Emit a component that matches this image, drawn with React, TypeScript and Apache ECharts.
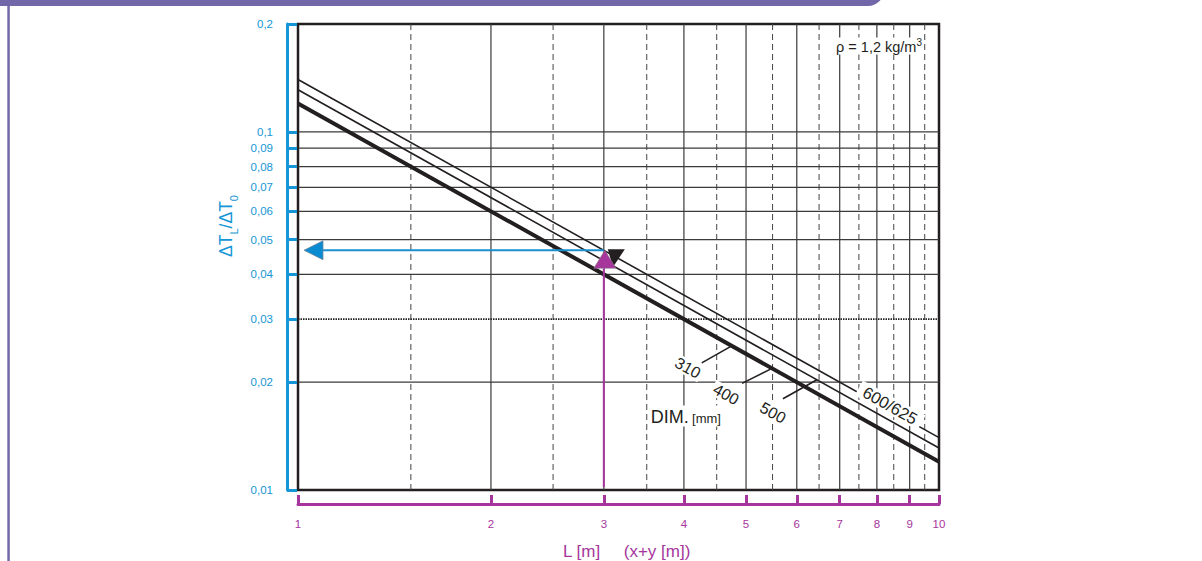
import React, { useEffect, useRef } from 'react';
import * as echarts from 'echarts';

// ---------- data ----------
const L_VALUES = [1, 10];
const DIM_310_400 = [0.12, 0.012];
const DIM_500 = [0.131, 0.0131];
const DIM_600_625 = [0.14, 0.014];

const Y_TICKS = [0.01, 0.02, 0.03, 0.04, 0.05, 0.06, 0.07, 0.08, 0.09, 0.1, 0.2];
const X_TICKS = [1, 2, 3, 4, 5, 6, 7, 8, 9, 10];
const H_GRID = [0.02, 0.04, 0.05, 0.06, 0.07, 0.08, 0.09, 0.1];
const H_GRID_DOTTED = [0.03];
const V_GRID = [2, 3, 4, 5, 6, 7, 8, 9];
const V_GRID_DASHED = [1.5, 2.5, 3.5, 4.5, 5.5, 6.5, 7.5, 8.5, 9.5];

const EXAMPLE_L = 3;
const EXAMPLE_RESULT = 0.0467;

// ---------- styles ----------
const FONT = '"Liberation Sans", Arial, Helvetica, sans-serif';
const BLUE = '#1596d6';
const PURPLE = '#a6369c';
const HEADER = '#7268a9';
const INK = '#231f20';
const GRIDC = '#3a3a3a';

const X_MIN = X_TICKS[0];
const X_MAX = X_TICKS[X_TICKS.length - 1];
const Y_MIN = Y_TICKS[0];
const Y_MAX = Y_TICKS[Y_TICKS.length - 1];

const toPairs = (xs: number[], ys: number[]) => xs.map((x, i) => [x, ys[i]]);
const valueOn = (ys: number[], L: number) => {
  const [x0, x1] = L_VALUES;
  const t = Math.log(L / x0) / Math.log(x1 / x0);
  return ys[0] * Math.pow(ys[1] / ys[0], t);
};
const fmt = (v: number) => String(Number(Number(v).toPrecision(6))).replace('.', ',');

const LEADERS = [
  { text: '310', line: DIM_310_400, L: 4.75, start: [-30, 17], label: [-44, 22] },
  { text: '400', line: DIM_310_400, L: 5.49, start: [-30, 15], label: [-46, 26] },
  { text: '500', line: DIM_500, L: 6.45, start: [-34, 19], label: [-44, 33] },
];

function renderGrid(_params: any, api: any) {
  const [, yb] = api.coord([X_MIN, Y_MIN]);
  const [, yt] = api.coord([X_MAX, Y_MAX]);
  const [xl] = api.coord([X_MIN, Y_MIN]);
  const [xr] = api.coord([X_MAX, Y_MIN]);
  const children: any[] = [];
  V_GRID_DASHED.forEach((L) => {
    const x = api.coord([L, Y_MIN])[0];
    children.push({ type: 'line', shape: { x1: x, y1: yt, x2: x, y2: yb }, style: { stroke: '#444', lineWidth: 1, lineDash: [6, 4] } });
  });
  V_GRID.forEach((L) => {
    const x = api.coord([L, Y_MIN])[0];
    children.push({ type: 'line', shape: { x1: x, y1: yt, x2: x, y2: yb }, style: { stroke: GRIDC, lineWidth: 1.2 } });
  });
  H_GRID.forEach((v) => {
    const y = api.coord([X_MIN, v])[1];
    children.push({ type: 'line', shape: { x1: xl, y1: y, x2: xr, y2: y }, style: { stroke: GRIDC, lineWidth: 1.2 } });
  });
  H_GRID_DOTTED.forEach((v) => {
    const y = api.coord([X_MIN, v])[1];
    children.push({ type: 'line', shape: { x1: xl, y1: y, x2: xr, y2: y }, style: { stroke: '#222', lineWidth: 1.8, lineDash: [1.5, 1] } });
  });
  return { type: 'group', children };
}

function renderAnnotations(_params: any, api: any) {
  const children: any[] = [];
  const p1 = api.coord([L_VALUES[0], DIM_600_625[0]]);
  const p2 = api.coord([L_VALUES[1], DIM_600_625[1]]);
  const angle = Math.atan2(p2[1] - p1[1], p2[0] - p1[0]);

  LEADERS.forEach((d) => {
    const a = api.coord([d.L, valueOn(d.line, d.L)]);
    children.push({
      type: 'text', x: a[0] + d.label[0], y: a[1] + d.label[1], rotation: -angle,
      style: { text: d.text, fill: INK, fontSize: 16, fontFamily: FONT, align: 'center', verticalAlign: 'middle', backgroundColor: '#fff', padding: [0, 2] },
    });
    children.push({
      type: 'line', shape: { x1: a[0] + d.start[0], y1: a[1] + d.start[1], x2: a[0], y2: a[1] },
      style: { stroke: INK, lineWidth: 1.6 },
    });
  });

  // 600/625 label on the top line
  const top = api.coord([8.39, valueOn(DIM_600_625, 8.39)]);
  children.push({
    type: 'text', x: top[0], y: top[1] - 5, rotation: -angle,
    style: { text: '600/625', fill: INK, fontSize: 16.5, fontFamily: FONT, align: 'center', verticalAlign: 'middle', backgroundColor: '#fff', padding: [0, 6] },
  });

  // DIM. [mm]
  const dim = api.coord([3.55, 0.0161]);
  children.push({
    type: 'text', x: dim[0], y: dim[1],
    style: {
      text: '{a|DIM.} {b|[mm]}', align: 'left', verticalAlign: 'middle', backgroundColor: '#fff',
      rich: {
        a: { fontSize: 18, fontFamily: FONT, fill: INK, lineHeight: 21, verticalAlign: 'bottom' },
        b: { fontSize: 13, fontFamily: FONT, fill: INK, lineHeight: 16, verticalAlign: 'bottom', padding: [0, 0, 1, 0] },
      },
    },
  });

  // rho
  const tr = api.coord([X_MAX, Y_MAX]);
  children.push({
    type: 'text', x: tr[0] - 17, y: tr[1] + 22,
    style: {
      text: '{a|ρ = 1,2 kg/m}{s|3}', align: 'right', verticalAlign: 'middle', backgroundColor: '#fff',
      rich: {
        a: { fontSize: 14.5, fontFamily: FONT, fill: INK, lineHeight: 17, verticalAlign: 'bottom', padding: [3, 0, 0, 0] },
        s: { fontSize: 10, fontFamily: FONT, fill: INK, lineHeight: 11, verticalAlign: 'top' },
      },
    },
  });

  // example arrows
  const p = api.coord([EXAMPLE_L, EXAMPLE_RESULT]);
  const xl = api.coord([X_MIN, EXAMPLE_RESULT])[0];
  const yb = api.coord([EXAMPLE_L, Y_MIN])[1];
  children.push({ type: 'line', shape: { x1: xl + 24, y1: p[1], x2: p[0], y2: p[1] }, style: { stroke: '#1a8fd0', lineWidth: 2 } });
  children.push({
    type: 'polygon', shape: { points: [[xl + 6, p[1]], [xl + 25, p[1] - 9.5], [xl + 25, p[1] + 9.5]] },
    style: { fill: '#0b8cd2', stroke: '#6f8899', lineWidth: 0.8 },
  });
  children.push({
    type: 'polygon', shape: { points: [[p[0] + 4, p[1] - 1], [p[0] + 21, p[1] - 1], [p[0] + 9, p[1] + 17]] },
    style: { fill: INK },
  });
  children.push({ type: 'line', shape: { x1: p[0], y1: yb - 3, x2: p[0], y2: p[1] + 16 }, style: { stroke: PURPLE, lineWidth: 2 } });
  children.push({
    type: 'polygon', shape: { points: [[p[0] + 1, p[1]], [p[0] - 10, p[1] + 18], [p[0] + 12, p[1] + 18]] },
    style: { fill: PURPLE, stroke: '#8a7a88', lineWidth: 0.6 },
  });
  return { type: 'group', children };
}

function buildOption(): any {
  return {
    animation: false,
    backgroundColor: '#fff',
    grid: { left: 298, right: 263, top: 24, bottom: 71, show: true, borderColor: INK, borderWidth: 2.5, backgroundColor: 'transparent' },
    xAxis: {
      type: 'log', logBase: 10, min: X_MIN, max: X_MAX, position: 'bottom', offset: 14,
      axisLine: { show: true, onZero: false, lineStyle: { color: PURPLE, width: 3 } },
      axisTick: { show: true, inside: true, length: 9, lineStyle: { color: PURPLE, width: 3 }, customValues: X_TICKS },
      axisLabel: { customValues: X_TICKS, interval: 0, color: PURPLE, fontSize: 11.5, fontFamily: FONT, margin: 14, formatter: fmt },
      splitLine: { show: false }, minorTick: { show: false }, minorSplitLine: { show: false },
    },
    yAxis: {
      type: 'log', logBase: 10, min: Y_MIN, max: Y_MAX, position: 'left', offset: 11,
      axisLine: { show: true, onZero: false, lineStyle: { color: BLUE, width: 3 } },
      axisTick: { show: true, inside: true, length: 10, lineStyle: { color: BLUE, width: 3 }, customValues: Y_TICKS },
      axisLabel: { customValues: Y_TICKS, interval: 0, color: BLUE, fontSize: 11.5, fontFamily: FONT, margin: 14, formatter: fmt },
      splitLine: { show: false }, minorTick: { show: false }, minorSplitLine: { show: false },
    },
    graphic: [
      { type: 'rect', shape: { x: 0, y: -14, width: 884, height: 20, r: [0, 0, 16, 0] }, style: { fill: HEADER } },
      { type: 'rect', shape: { x: 7.3, y: 0, width: 2.5, height: 561 }, style: { fill: HEADER } },
      {
        type: 'text', x: 229, y: 226, rotation: Math.PI / 2,
        style: {
          text: '{a|ΔT}{s|L}{a|/ΔT}{s|0}', align: 'center', verticalAlign: 'middle',
          rich: {
            a: { fontSize: 17.5, fontFamily: FONT, fill: BLUE, lineHeight: 20, verticalAlign: 'bottom', padding: [0, 0, 4, 0] },
            s: { fontSize: 11, fontFamily: FONT, fill: BLUE, lineHeight: 13, verticalAlign: 'bottom' },
          },
        },
      },
      {
        type: 'text', x: 563, y: 551,
        style: { text: 'L [m]     (x+y [m])', fill: PURPLE, fontSize: 17, fontFamily: FONT, align: 'left', verticalAlign: 'middle' },
      },
    ],
    series: [
      { type: 'custom', name: 'grid', renderItem: renderGrid, data: [[X_MIN, Y_MIN]], z: 1, silent: true },
      { type: 'line', name: '310/400', data: toPairs(L_VALUES, DIM_310_400), symbol: 'none', lineStyle: { color: INK, width: 4 }, z: 3 },
      { type: 'line', name: '500', data: toPairs(L_VALUES, DIM_500), symbol: 'none', lineStyle: { color: INK, width: 1.6 }, z: 3 },
      { type: 'line', name: '600/625', data: toPairs(L_VALUES, DIM_600_625), symbol: 'none', lineStyle: { color: INK, width: 1.6 }, z: 3 },
      { type: 'custom', name: 'annotations', renderItem: renderAnnotations, data: [[X_MIN, Y_MIN]], z: 5, silent: true },
    ],
  };
}

export default function App() {
  const ref = useRef<HTMLDivElement>(null);
  useEffect(() => {
    if (!ref.current) return;
    const chart = echarts.init(ref.current, null, { renderer: 'svg' });
    chart.setOption(buildOption());
    return () => chart.dispose();
  }, []);
  return (
    <div
      ref={ref}
      style={{ position: 'fixed', left: 0, top: 0, width: 1202, height: 561, background: '#fff' }}
    />
  );
}
